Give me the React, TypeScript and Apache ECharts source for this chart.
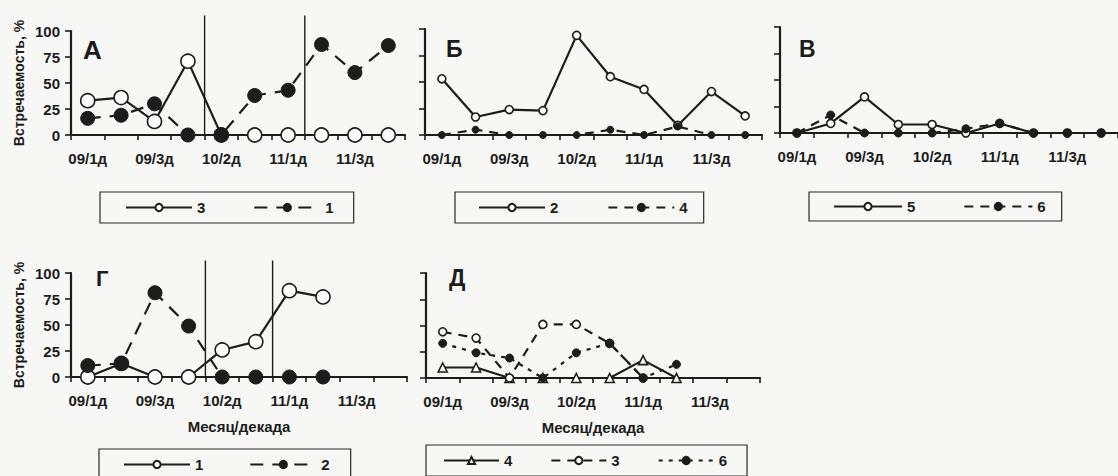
import React, { useEffect, useRef } from 'react';
import * as echarts from 'echarts';

// ---- categories (month / decade) ----
const categories = ['09/1д', '09/2д', '09/3д', '10/1д', '10/2д', '10/3д', '11/1д', '11/2д', '11/3д', '12/1д'];
const yTickValues = [0, 25, 50, 75, 100];

// ---- Panel А ----
const a3 = [33, 36, 13, 71, 0, 0, 0, 0, 0, 0];
const a1 = [16, 19, 30, 0, 0, 38, 43, 87, 60, 86];
const dividersA = ['10/1д', '11/1д'];

// ---- Panel Б ----
const b2 = [53, 17, 24, 23, 94, 55, 43, 9, 41, 18];
const b4 = [0, 5, 0, 0, 0, 5, 0, 8, 0, 0];

// ---- Panel В ----
const v5 = [0, 9, 34, 8, 8, 0, 9, 0, 0, 0];
const v6 = [0, 17, 0, 0, 0, 4, 9, 0, 0, 0];

// ---- Panel Г ----
const g1 = [0, 13, 0, 0, 26, 34, 83, 77, null, null];
const g2 = [11, 13, 81, 49, 0, 0, 0, 0, null, null];
const dividersG = ['10/1д', '10/3д'];

// ---- Panel Д ----
const d4 = [10, 10, 0, 0, 0, 0, 17, 0, null, null];
const d3 = [44, 38, 0, 51, 51, 33, 0, null, null, null];
const d6 = [33, 24, 19, 0, 24, 33, 0, 13, null, null];

const INK = '#1c1c1c';
const FONT = '"Liberation Sans", Arial, sans-serif';
const SEP = '·';

type Kind = 'open' | 'filled' | 'tri';

const LONG_DASH = [13, 9];
const MID_DASH = [9, 7];
const SHORT_DASH = [4, 6];

const panels = [
  {
    key: 'А', grid: { left: 71, top: 31, width: 334, height: 104 }, yLabels: true, xName: false,
    series: [
      { label: '3', data: a3, kind: 'open' as Kind, dash: 'solid' as any, size: 14 },
      { label: '1', data: a1, kind: 'filled' as Kind, dash: LONG_DASH, size: 14 },
    ],
    dividers: dividersA, dividerTop: 115,
    letter: { x: 83, y: 37, size: 26 },
    legend: { left: 100, top: 192, itemWidth: 66, itemGap: 48, pad: [8, 20, 8, 25] },
  },
  {
    key: 'Б', grid: { left: 425, top: 29, width: 337, height: 106 }, yLabels: false, xName: false,
    series: [
      { label: '2', data: b2, kind: 'open' as Kind, dash: 'solid' as any, size: 8 },
      { label: '4', data: b4, kind: 'filled' as Kind, dash: MID_DASH, size: 7 },
    ],
    dividers: [], dividerTop: 0,
    letter: { x: 446, y: 37, size: 23 },
    legend: { left: 455, top: 192, itemWidth: 66, itemGap: 49, pad: [8, 16, 8, 23] },
  },
  {
    key: 'В', grid: { left: 780, top: 27, width: 338, height: 106 }, yLabels: false, xName: false,
    series: [
      { label: '5', data: v5, kind: 'open' as Kind, dash: 'solid' as any, size: 8 },
      { label: '6', data: v6, kind: 'filled' as Kind, dash: MID_DASH, size: 8 },
    ],
    dividers: [], dividerTop: 0,
    letter: { x: 799, y: 37, size: 23 },
    legend: { left: 809, top: 192, itemWidth: 68, itemGap: 48, pad: [7, 16, 7, 24] },
  },
  {
    key: 'Г', grid: { left: 71, top: 273, width: 336, height: 104 }, yLabels: true, xName: true,
    series: [
      { label: '1', data: g1, kind: 'open' as Kind, dash: 'solid' as any, size: 14 },
      { label: '2', data: g2, kind: 'filled' as Kind, dash: LONG_DASH, size: 14 },
    ],
    dividers: dividersG, dividerTop: 112,
    letter: { x: 96, y: 267, size: 22 },
    legend: { left: 99, top: 449, itemWidth: 66, itemGap: 46, pad: [8, 21, 8, 24] },
  },
  {
    key: 'Д', grid: { left: 426, top: 273, width: 334, height: 105 }, yLabels: false, xName: true,
    series: [
      { label: '4', data: d4, kind: 'tri' as Kind, dash: 'solid' as any, size: 9 },
      { label: '3', data: d3, kind: 'open' as Kind, dash: MID_DASH, size: 8 },
      { label: '6', data: d6, kind: 'filled' as Kind, dash: SHORT_DASH, size: 8 },
    ],
    dividers: [], dividerTop: 0,
    letter: { x: 449, y: 266, size: 23 },
    legend: { left: 426, top: 445, itemWidth: 55, itemGap: 38, pad: [8, 20, 8, 17] },
  },
];

function buildOption() {
  const grid: any[] = [];
  const xAxis: any[] = [];
  const yAxis: any[] = [];
  const series: any[] = [];
  const legend: any[] = [];
  const graphic: any[] = [];

  panels.forEach((p, i) => {
    grid.push({ ...p.grid, containLabel: false });
    xAxis.push({
      type: 'category',
      gridIndex: i,
      data: categories,
      boundaryGap: true,
      name: p.xName ? 'Месяц/декада' : '',
      nameLocation: 'middle',
      nameGap: 42,
      nameTextStyle: { fontSize: 15, fontWeight: 'bold', color: INK, fontFamily: FONT },
      axisLine: { lineStyle: { color: INK, width: 2.2 } },
      axisTick: { show: true, interval: 0, length: 5, lineStyle: { color: INK, width: 1.6 } },
      axisLabel: { interval: 1, margin: 16, fontSize: 15, fontWeight: 'bold', color: INK, fontFamily: FONT },
      splitLine: { show: false },
    });
    yAxis.push({
      type: 'value',
      gridIndex: i,
      min: yTickValues[0],
      max: yTickValues[yTickValues.length - 1],
      interval: yTickValues[1] - yTickValues[0],
      name: p.yLabels ? 'Встречаемость, %' : '',
      nameLocation: 'middle',
      nameRotate: 90,
      nameGap: 45,
      nameTextStyle: { fontSize: 14, fontWeight: 'bold', color: INK, fontFamily: FONT },
      axisLine: { show: true, lineStyle: { color: INK, width: 2.2 } },
      axisTick: { show: true, length: 6, lineStyle: { color: INK, width: 1.6 } },
      axisLabel: { show: p.yLabels, margin: 11, fontSize: 15, fontWeight: 'bold', color: INK, fontFamily: FONT },
      splitLine: { show: false },
    });

    if (p.dividers.length) {
      const topVal = p.dividerTop;
      series.push({
        type: 'custom',
        xAxisIndex: i,
        yAxisIndex: i,
        clip: false,
        silent: true,
        z: 1,
        data: p.dividers.map((c) => [c, 0]),
        encode: { x: 0, y: 1 },
        renderItem: (params: any, api: any) => {
          const idx = api.value(0);
          const base = api.coord([idx, 0]);
          const half = api.size([1, 0])[0] / 2;
          const top = api.coord([idx, topVal]);
          const x = base[0] + half;
          return {
            type: 'line',
            shape: { x1: x, y1: base[1], x2: x, y2: top[1] },
            style: { stroke: INK, lineWidth: 1.4 },
          };
        },
      });
    }

    const names: string[] = [];
    p.series.forEach((s, si) => {
      const name = p.key + SEP + s.label;
      names.push(name);
      const filled = s.kind === 'filled';
      series.push({
        type: 'line',
        name,
        xAxisIndex: i,
        yAxisIndex: i,
        data: s.data,
        z: 3 + si,
        symbol: s.kind === 'tri' ? 'triangle' : 'circle',
        symbolSize: s.size,
        showSymbol: true,
        showAllSymbol: true,
        connectNulls: false,
        lineStyle: { color: INK, width: 2.2, type: s.dash },
        itemStyle: filled
          ? { color: INK, borderColor: INK, borderWidth: 1 }
          : { color: '#ffffff', borderColor: INK, borderWidth: 1.6 },
        emphasis: { disabled: true },
      });
    });

    legend.push({
      left: p.legend.left,
      top: p.legend.top,
      orient: 'horizontal',
      data: names,
      formatter: (n: string) => n.split(SEP)[1],
      itemWidth: p.legend.itemWidth,
      itemHeight: 9,
      itemGap: p.legend.itemGap,
      padding: p.legend.pad,
      borderColor: '#2a2a2a',
      borderWidth: 1.2,
      selectedMode: false,
      textStyle: { fontSize: 15, fontWeight: 'bold', color: INK, fontFamily: FONT },
    });

    graphic.push({
      type: 'text',
      left: p.letter.x,
      top: p.letter.y,
      style: {
        text: p.key,
        font: `bold ${p.letter.size}px ${FONT}`,
        fill: INK,
      },
    });
  });

  return {
    animation: false,
    backgroundColor: '#f7f7f5',
    grid,
    xAxis,
    yAxis,
    series,
    legend,
    graphic,
  };
}

export default function App() {
  const ref = useRef<HTMLDivElement>(null);
  useEffect(() => {
    if (!ref.current) return;
    const chart = echarts.init(ref.current, undefined, { renderer: 'svg' });
    chart.setOption(buildOption() as any);
    return () => chart.dispose();
  }, []);
  return (
    <div
      ref={ref}
      style={{ position: 'fixed', left: 0, top: 0, width: 1118, height: 476 }}
    />
  );
}
